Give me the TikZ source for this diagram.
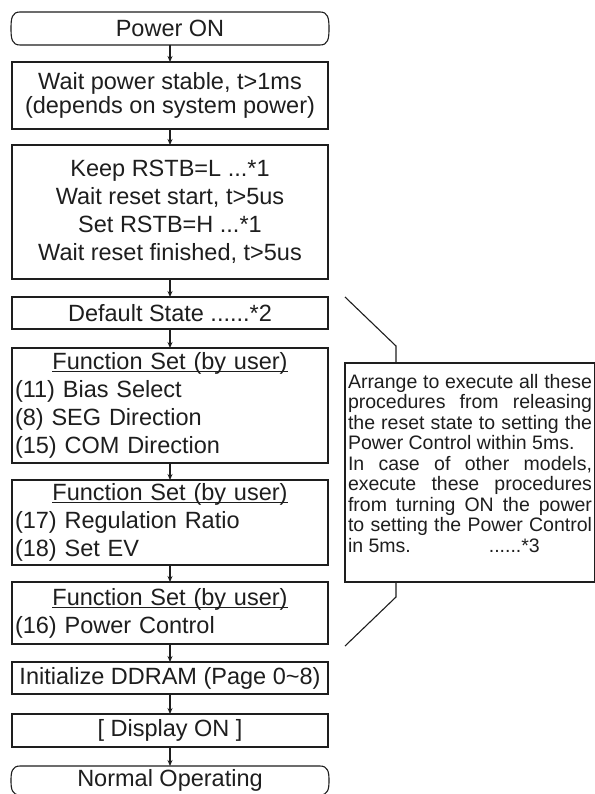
\documentclass[tikz,border=0pt]{standalone}
\usepackage{fontspec}
\setmainfont{Liberation Sans}
\usetikzlibrary{arrows.meta}
\definecolor{ink}{RGB}{30,30,30}

% underline that runs just below the baseline
\newcommand\fsul[1]{\setbox0\hbox{#1}\rlap{\rule[-2.6pt]{\wd0}{1.1pt}}\box0}
\newcommand\fstitle{\makebox[310pt]{\fsul{Function Set (by user)}}}
\newcommand\jline[1]{\makebox[244pt][s]{#1}}

% rounded "terminal" outline drawn around a node
\newcommand\drawterminal[1]{%
  \draw[frame] ([xshift=9pt]#1.north west) -- ([xshift=-9pt]#1.north east)
    .. controls ([xshift=-1pt]#1.north east) and ([yshift=-6pt]#1.north east) .. (#1.east)
    .. controls ([yshift=6pt]#1.south east) and ([xshift=-1pt]#1.south east) .. ([xshift=-9pt]#1.south east)
    -- ([xshift=9pt]#1.south west)
    .. controls ([xshift=1pt]#1.south west) and ([yshift=6pt]#1.south west) .. (#1.west)
    .. controls ([yshift=-6pt]#1.north west) and ([xshift=1pt]#1.north west) .. cycle;}

\begin{document}
\begin{tikzpicture}[x=1pt,y=-1pt,
  every node/.style={font=\fontsize{23.5}{28}\selectfont, text=ink},
  frame/.style={draw=ink, line width=1.1pt},
  stepbox/.style={frame, minimum width=316pt, inner xsep=3pt, inner ysep=0pt, outer sep=0pt},
  termbox/.style={minimum width=318pt, inner sep=0pt, outer sep=0pt},
  flow/.style={draw=ink, line width=1.1pt, -{Stealth[length=6pt,width=5pt]}},
  notebox/.style={frame, inner xsep=3pt, inner ysep=11pt, outer sep=0pt,
                  font=\fontsize{19.5}{20.5}\selectfont},
  bracket/.style={draw=ink, line width=1.1pt}]

\useasboundingbox[fill=white] (0,0) rectangle (594,794);

% main flow
\node[termbox, minimum height=33pt] (pwr) at (170,28.5) {Power ON};
\drawterminal{pwr}

\node[stepbox, minimum height=67pt, align=center,
      font=\fontsize{23.5}{23.5}\selectfont] (wait) at (170,95.5)
  {Wait power stable, t>1ms\\(depends on system power)};

\node[stepbox, minimum height=134pt, align=center] (rst) at (170,212)
  {Keep RSTB=L ...*1\\Wait reset start, t>5us\\Set RSTB=H ...*1\\Wait reset finished, t>5us};

\node[stepbox, minimum height=32pt] (def) at (170,313) {Default State ......*2};

\node[stepbox, minimum height=115pt, text width=310pt, align=left] (fs1) at (170,405.5)
  {\fstitle\\(11) Bias Select\\(8) SEG Direction\\(15) COM Direction};

\node[stepbox, minimum height=85pt, text width=310pt, align=left] (fs2) at (170,522.5)
  {\fstitle\\(17) Regulation Ratio\\(18) Set EV};

\node[stepbox, minimum height=62pt, text width=310pt, align=left] (fs3) at (170,613)
  {\fstitle\\(16) Power Control};

\node[stepbox, minimum height=32pt] (ddr) at (170,678)
  {Initialize DDRAM (Page 0\textasciitilde 8)};

\node[stepbox, minimum height=33pt] (dsp) at (170,730.5) {[ Display ON ]};

\node[termbox, minimum height=29pt] (nrm) at (170,780.5) {Normal Operating};
\drawterminal{nrm}

\draw[flow] (pwr) -- (wait);
\draw[flow] (wait) -- (rst);
\draw[flow] (rst) -- (def);
\draw[flow] (def) -- (fs1);
\draw[flow] (fs1) -- (fs2);
\draw[flow] (fs2) -- (fs3);
\draw[flow] (fs3) -- (ddr);
\draw[flow] (ddr) -- (dsp);
\draw[flow] (dsp) -- (nrm);

% timing note with its bracket
\node[notebox, anchor=north west] (note) at (345,363)
  {\parbox[c][197pt][t]{244pt}{%
    \jline{Arrange to execute all these}\\
    \jline{procedures from releasing}\\
    \jline{the reset state to setting the}\\
    Power Control within 5ms.\\
    \jline{In case of other models,}\\
    \jline{execute these procedures}\\
    \jline{from turning ON the power}\\
    \jline{to setting the Power Control}\\
    in 5ms.\hspace{78pt}......*3}};

\coordinate (b1) at (345,297);
\coordinate (b2) at (396,346);
\coordinate (b3) at (396,597);
\coordinate (b4) at (345,646);
\draw[bracket] (b1) -- (b2) -- (b2 |- note.north);
\draw[bracket] (b3 |- note.south) -- (b3) -- (b4);
\end{tikzpicture}
\end{document}
